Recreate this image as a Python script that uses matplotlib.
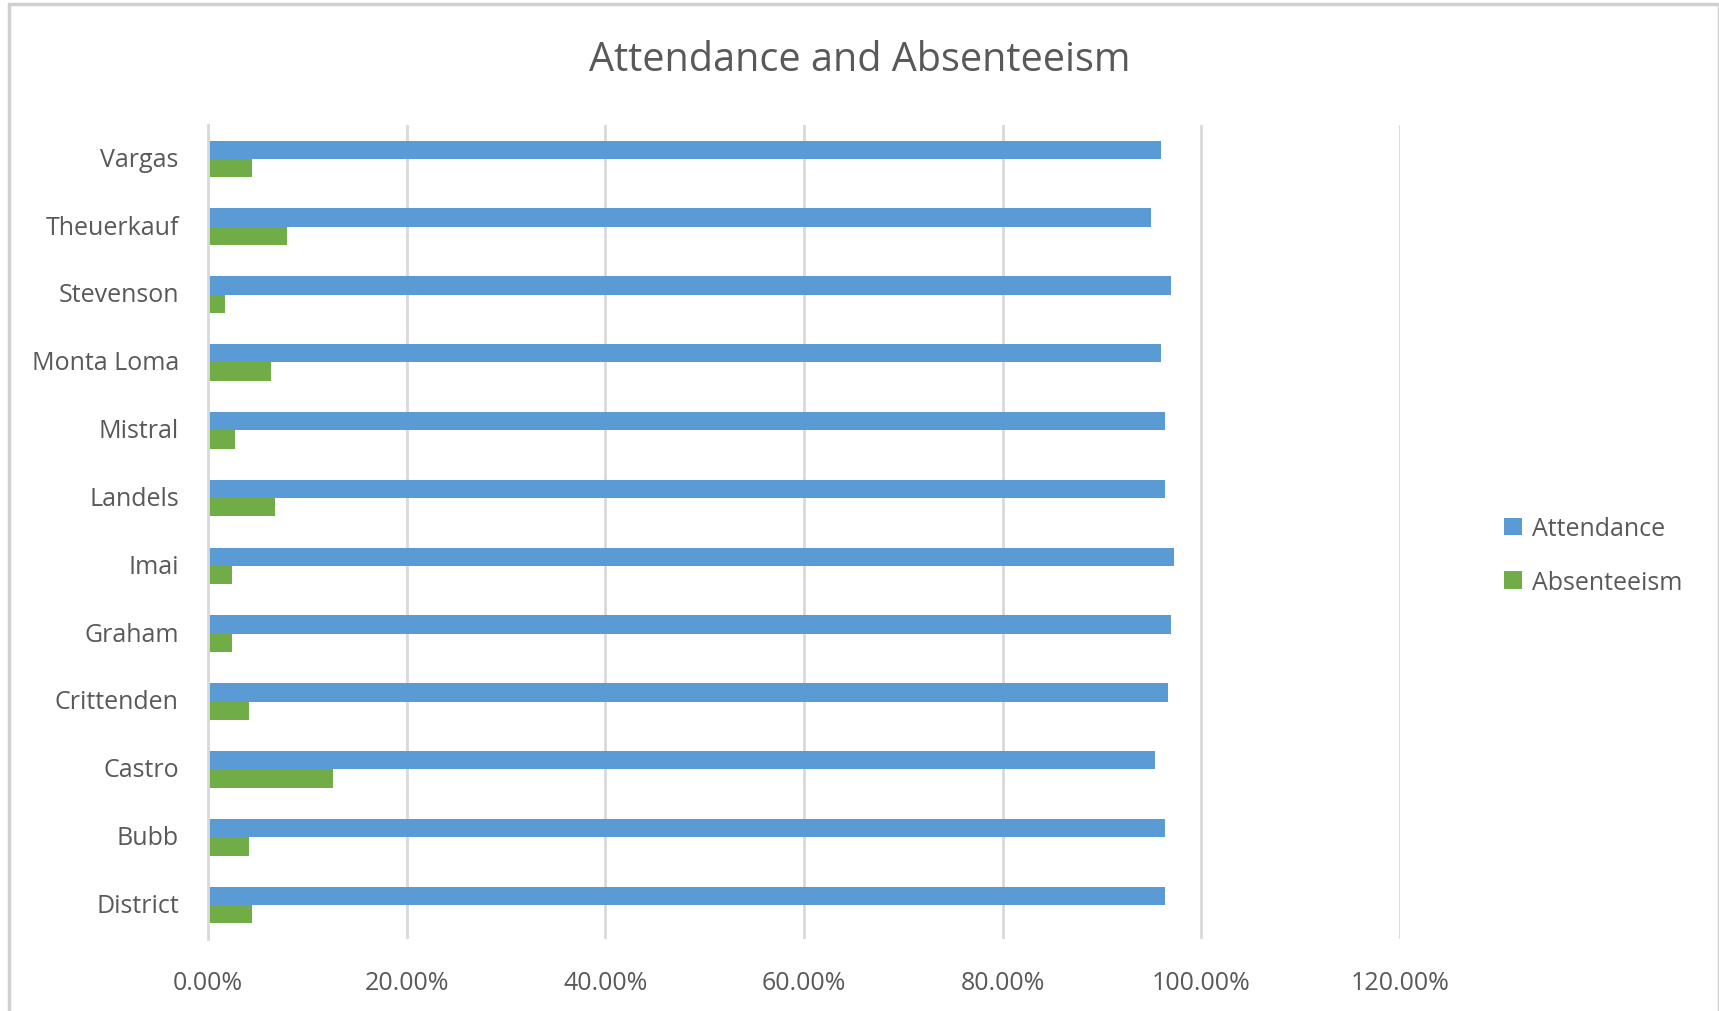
import matplotlib
matplotlib.use("Agg")
import matplotlib.pyplot as plt
import numpy as np
from matplotlib.patches import Rectangle

categories = ["District", "Bubb", "Castro", "Crittenden", "Graham", "Imai",
              "Landels", "Mistral", "Monta Loma", "Stevenson", "Theuerkauf", "Vargas"]
attendance = [96.3, 96.3, 95.3, 96.6, 96.9, 97.3, 96.3, 96.3, 95.9, 96.9, 94.9, 95.9]
absenteeism = [4.4, 4.1, 12.6, 4.1, 2.4, 2.4, 6.7, 2.7, 6.3, 1.75, 8.0, 4.4]
xticks = [0, 20, 40, 60, 80, 100, 120]
xtick_labels = ["0.00%", "20.00%", "40.00%", "60.00%", "80.00%", "100.00%", "120.00%"]

BLUE = "#5B9BD5"
GREEN = "#70AD47"
TEXT = "#595959"
GRID = "#D9D9D9"

plt.rcParams['font.family'] = ['Open Sans', 'DejaVu Sans']

fig = plt.figure(figsize=(17.19, 10.12), dpi=100)
fig.patches.append(Rectangle((0.005, -0.01), 0.995, 1.005, transform=fig.transFigure,
                             fill=False, edgecolor="#D0D0D0", linewidth=2.5))

ax = fig.add_axes([0.121, 0.0711, 0.6934, 0.8044])
y = np.arange(len(categories))
h = 0.27
ax.barh(y + h / 2, attendance, height=h, color=BLUE, label="Attendance", zorder=3)
ax.barh(y - h / 2, absenteeism, height=h, color=GREEN, label="Absenteeism", zorder=3)

ax.set_xlim(0, 120)
ax.set_ylim(-0.5, len(categories) - 0.5)
ax.set_xticks(xticks)
ax.set_xticklabels(xtick_labels, fontsize=18, color=TEXT)
ax.set_yticks(y + 0.04)
ax.set_yticklabels(categories, fontsize=18, color=TEXT)
ax.tick_params(axis="both", length=0)
ax.tick_params(axis="x", pad=22)
ax.tick_params(axis="y", pad=21)
ax.xaxis.grid(True, color=GRID, linewidth=2, zorder=0)
ax.set_axisbelow(True)
for s in ["top", "right", "bottom"]:
    ax.spines[s].set_visible(False)
ax.spines["left"].set_color(GRID)
ax.spines["left"].set_linewidth(2)
ax.spines["left"].set_zorder(4)

fig.text(0.5, 0.94, "Attendance and Absenteeism", ha="center", va="center",
         fontsize=28.5, color=TEXT)

leg = fig.legend(loc="center left", bbox_to_anchor=(0.862, 0.45), frameon=False,
                 fontsize=18, handlelength=0.7, handleheight=0.7, handletextpad=0.4,
                 labelspacing=1.15, labelcolor=TEXT)

fig.savefig("out.png", dpi=100, facecolor="white")
